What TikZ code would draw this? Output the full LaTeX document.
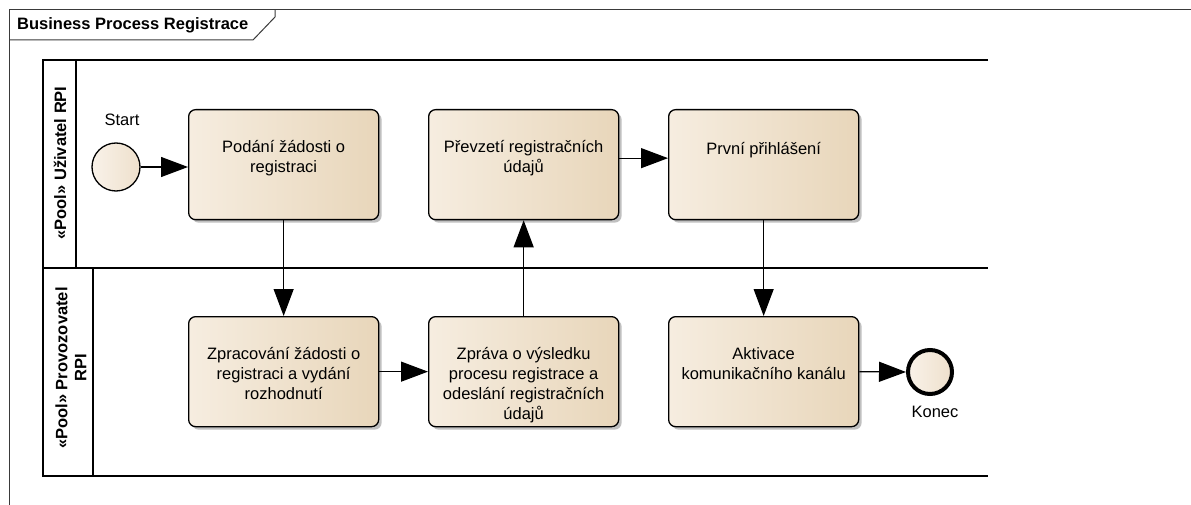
\documentclass[tikz,border=0pt]{standalone}
\usepackage{fontspec}
\setmainfont{Liberation Sans}
\usetikzlibrary{arrows.meta,shadows}
\definecolor{taskL}{HTML}{F6EDE0}
\definecolor{taskM}{HTML}{FCF6EE}
\definecolor{taskR}{HTML}{E8D6BA}
\definecolor{frameC}{HTML}{3A3A3A}
\definecolor{eventL}{HTML}{F9F2E9}
\definecolor{eventR}{HTML}{EEE0CC}
\begin{document}
\begin{tikzpicture}[x=1pt,y=-1pt,
  txt/.style={font=\fontsize{16.5}{20}\selectfont},
  task/.style={draw=black, line width=1.3pt, rounded corners=7pt,
    minimum width=190pt, minimum height=110pt, inner sep=0pt,
    anchor=north west, left color=taskL, middle color=taskM, right color=taskR,
    drop shadow={shadow xshift=3pt, shadow yshift=-3pt, fill=black!45, opacity=0.55}},
  tasktext/.style={txt, anchor=north, align=center, inner sep=0pt,
    yshift=-31pt, execute at begin node=\strut},
  event/.style={circle, draw=black, inner sep=0pt,
    left color=eventL, right color=eventR},
  flow/.style={line width=1.2pt, -{Triangle[length=27pt, width=20pt]}},
  lane/.style={line width=1.5pt, black},
  pooltitle/.style={font=\bfseries\fontsize{16.5}{19}\selectfont, rotate=90, align=center}
]
\useasboundingbox (0,0) rectangle (1191,505);

% diagram frame with its name tab
\draw[frameC, line width=1pt] (9,505) -- (9,10) -- (1191,10);
\draw[frameC, line width=1pt] (9,40) -- (253,40) -- (275,17) -- (275,10);
\node[anchor=west, font=\bfseries\fontsize{16.5}{19}\selectfont, inner sep=0pt]
  (title) at (17,25) {Business Process Registrace};

% pools
\draw[lane] (988,60) -- (43,60) -- (43,476) -- (988,476);
\draw[lane] (43,268) -- (988,268);
\draw[lane] (76,60) -- (76,268);
\draw[lane] (93,268) -- (93,476);
\node[pooltitle] (pool1) at (60,163) {«Pool» Uživatel RPI};
\node[pooltitle] (pool2) at (71,368) {«Pool» Provozovatel\\RPI};

% events
\node[event, line width=1.3pt, minimum size=48pt] (start) at (116,167) {};
\node[txt, inner sep=0pt] (startlbl) at (122,120) {Start};
\node[event, line width=4pt, minimum size=44pt] (end) at (930,372) {};
\node[txt, inner sep=0pt] (endlbl) at (935,412) {Konec};

% tasks
\node[task] (b1) at (188,109) {};
\node[tasktext] (t1) at (b1.north) {Podání žádosti o\\registraci};
\node[task] (b2) at (428,109) {};
\node[tasktext] (t2) at (b2.north) {Převzetí registračních\\údajů};
\node[task] (b3) at (668,109) {};
\node[tasktext] (t3) at (b3.north) {První přihlášení};
\node[task] (b4) at (188,316) {};
\node[tasktext] (t4) at (b4.north) {Zpracování žádosti o\\registraci a vydání\\rozhodnutí};
\node[task] (b5) at (428,316) {};
\node[tasktext] (t5) at (b5.north) {Zpráva o výsledku\\procesu registrace a\\odeslání registračních\\údajů};
\node[task] (b6) at (668,316) {};
\node[tasktext] (t6) at (b6.north) {Aktivace\\komunikačního kanálu};

% sequence flows
\draw[flow] (start.east) -- (start.east -| b1.west);
\draw[flow] (b1.south) -- (b4.north);
\draw[flow] (b4.east) -- (b5.west);
\draw[flow] (b5.north) -- (b2.south);
\draw[flow] ([yshift=6.5pt]b2.east) -- ([yshift=6.5pt]b3.west);
\draw[flow] (b3.south) -- (b6.north);
\draw[flow] (b6.east) -- (end.west);
\end{tikzpicture}
\end{document}
